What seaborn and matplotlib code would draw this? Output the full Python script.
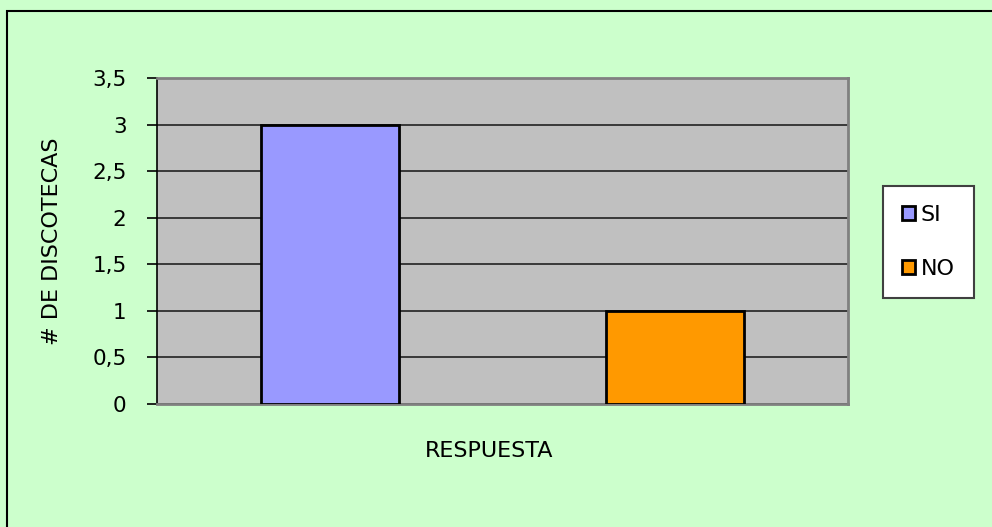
import matplotlib
matplotlib.use("Agg")
import matplotlib.pyplot as plt
import seaborn as sns
import pandas as pd
from matplotlib.patches import Rectangle, Patch
from matplotlib.ticker import FuncFormatter

categories = ["SI", "NO"]
values = [3, 1]
colors = ["#9999FF", "#FF9900"]
yticks = [0, 0.5, 1, 1.5, 2, 2.5, 3, 3.5]

sns.set_theme(style="white")
plt.rcParams['font.family'] = ['DejaVu Sans']

df = pd.DataFrame({"cat": categories, "val": values})

fig = plt.figure(figsize=(9.92, 5.27), dpi=100)
fig.patch.set_facecolor("#CCFFCC")
W, H = 992, 527
ax = fig.add_axes([157 / W, 1 - 404 / H, (848 - 157) / W, (404 - 78) / H])
ax.set_facecolor("#C0C0C0")

sns.barplot(data=df, x="cat", y="val", hue="cat", palette=colors, width=0.4,
            saturation=1, edgecolor="black", linewidth=2, ax=ax, legend=False, zorder=3)

ax.set_xlim(-0.5, 1.5)
ax.set_ylim(0, 3.5)
ax.set_yticks(yticks)
ax.yaxis.set_major_formatter(FuncFormatter(lambda v, p: ("%g" % v).replace(".", ",")))
ax.grid(axis="y", color="#222222", linewidth=1.2, zorder=1)
ax.set_axisbelow(True)
ax.set_xticks([])
ax.tick_params(axis="y", direction="out", length=7, width=1.2, color="black",
               labelsize=15.5, labelcolor="black", pad=15, left=True)
for s in ["top", "right", "bottom"]:
    ax.spines[s].set_color("#808080")
    ax.spines[s].set_linewidth(2)
ax.spines["left"].set_color("black")
ax.spines["left"].set_linewidth(1.2)

xl = ax.set_xlabel("RESPUESTA", fontsize=16, color="black")
ax.xaxis.set_label_coords((489 - 157) / 691, -(451 - 404) / 326)
xl.set_verticalalignment("center")
yl = ax.set_ylabel("# DE DISCOTECAS", fontsize=16, color="black")
ax.yaxis.set_label_coords(-(157 - 52) / 691, 0.5)
yl.set_verticalalignment("center")

handles = [Patch(facecolor=c, edgecolor="black", linewidth=2, label=l)
           for c, l in zip(colors, categories)]
leg = fig.legend(handles=handles, loc="center", bbox_to_anchor=(928.5 / W, 1 - 242 / H),
                 fontsize=16, frameon=True, fancybox=False, handlelength=0.6,
                 handleheight=0.6, handletextpad=0.25, labelspacing=1.55,
                 borderpad=0.85, borderaxespad=0)
for t in leg.get_texts():
    t.set_color("black")
leg.get_frame().set_edgecolor("#404040")
leg.get_frame().set_linewidth(1.5)
leg.get_frame().set_facecolor("white")
leg.get_frame().set_alpha(1)

fig.patches.append(Rectangle((7 / W, -0.01), 1.1, 1 - 11 / H + 0.01, transform=fig.transFigure,
                             fill=False, edgecolor="black", linewidth=1.5))

fig.savefig("out.png", dpi=100, facecolor=fig.get_facecolor())
